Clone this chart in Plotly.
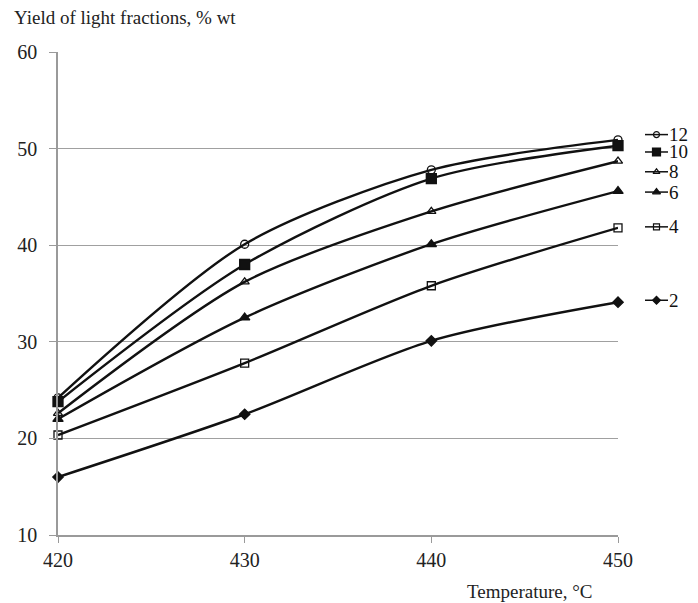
import plotly.graph_objects as go

temperature = [420, 430, 440, 450]
series_names = ["12", "10", "8", "6", "4", "2"]
yield_12 = [24.2, 40.1, 47.8, 50.9]
yield_10 = [23.8, 38.0, 46.9, 50.3]
yield_8 = [22.6, 36.2, 43.5, 48.7]
yield_6 = [22.0, 32.5, 40.1, 45.6]
yield_4 = [20.35, 27.8, 35.8, 41.8]
yield_2 = [16.0, 22.5, 30.1, 34.1]
y_ticks = [10, 20, 30, 40, 50, 60]
x_ticks = [420, 430, 440, 450]

series_values = [yield_12, yield_10, yield_8, yield_6, yield_4, yield_2]
symbols = ["circle-open", "square", "triangle-up-open", "triangle-up", "square-open", "diamond"]
sizes = [8, 10, 8, 9, 8, 8]
# legend label vertical positions (layout, in y units)
legend_pos = [51.45, 49.65, 47.6, 45.5, 41.9, 34.3]

FONT = "Liberation Serif, Times New Roman, serif"

W, H = 682, 595
L, T, B = 50, 44, 68
PW = W - L            # plotting width incl. legend strip
MAINW = 560           # main plot width in px
PH = H - T - B

fig = go.Figure()
for name, vals, sym, sz in zip(series_names, series_values, symbols, sizes):
    fig.add_trace(go.Scatter(
        x=temperature, y=vals, mode="lines+markers", name=name,
        line=dict(color="#111111", width=2.4, shape="spline", smoothing=0.8),
        marker=dict(symbol=sym, size=sz, color="#111111",
                    line=dict(color="#111111", width=1.3)),
        cliponaxis=False, showlegend=False,
    ))

# custom legend keys placed next to line ends
for name, ly, sym, sz in zip(series_names, legend_pos, symbols, sizes):
    fig.add_trace(go.Scatter(
        x=[27, 50], y=[ly, ly], xaxis="x2", yaxis="y2", mode="lines",
        line=dict(color="#111111", width=1.5), showlegend=False, hoverinfo="skip",
        cliponaxis=False,
    ))
    fig.add_trace(go.Scatter(
        x=[38.5], y=[ly], xaxis="x2", yaxis="y2", mode="markers",
        marker=dict(symbol=sym, size=max(sz - 2, 6), color="#111111",
                    line=dict(color="#111111", width=1.2)),
        showlegend=False, hoverinfo="skip", cliponaxis=False,
    ))
    fig.add_annotation(x=49, y=ly, xref="x2", yref="y2", text=name,
                       showarrow=False, xanchor="left", yanchor="middle",
                       font=dict(family=FONT, size=19, color="#111111"))

fig.update_layout(
    width=W, height=H,
    margin=dict(l=L, r=0, t=T, b=B, autoexpand=False),
    paper_bgcolor="white", plot_bgcolor="white",
    font=dict(family=FONT, size=20, color="#222222"),
    xaxis=dict(domain=[0, MAINW / PW], range=[420, 450], tickvals=x_ticks,
               showgrid=False, zeroline=False, showline=True, automargin=False,
               linecolor="#9a9a9a", linewidth=1.5, ticks="outside",
               ticklen=6, tickcolor="#9a9a9a", tickfont=dict(size=20)),
    xaxis2=dict(domain=[MAINW / PW, 1], range=[0, PW - MAINW],
                anchor="y2", visible=False, fixedrange=True, automargin=False),
    yaxis2=dict(domain=[0, 1], range=[10, 60], anchor="x2", visible=False,
                showgrid=False, fixedrange=True, automargin=False),
    yaxis=dict(range=[10, 60], tickvals=y_ticks, showgrid=True, automargin=False,
               gridcolor="#a0a0a0", gridwidth=1.3, zeroline=False,
               showline=True, linecolor="#9a9a9a", linewidth=1.5,
               ticks="outside", ticklen=7, tickcolor="#9a9a9a",
               ticklabelstandoff=8, tickfont=dict(size=20)),
)
fig.add_annotation(x=(4 - L) / PW, y=1 + (T - 10) / PH, xref="paper", yref="paper",
                   text="Yield of light fractions, % wt", showarrow=False,
                   xanchor="left", yanchor="middle",
                   font=dict(family=FONT, size=19, color="#222222"))
fig.add_annotation(x=(522 - L) / PW, y=-(583 - (H - B)) / PH, xref="paper", yref="paper",
                   text="Temperature, °C", showarrow=False, xanchor="center", yanchor="middle",
                   font=dict(family=FONT, size=19, color="#222222"))

fig.write_html("out.html")
